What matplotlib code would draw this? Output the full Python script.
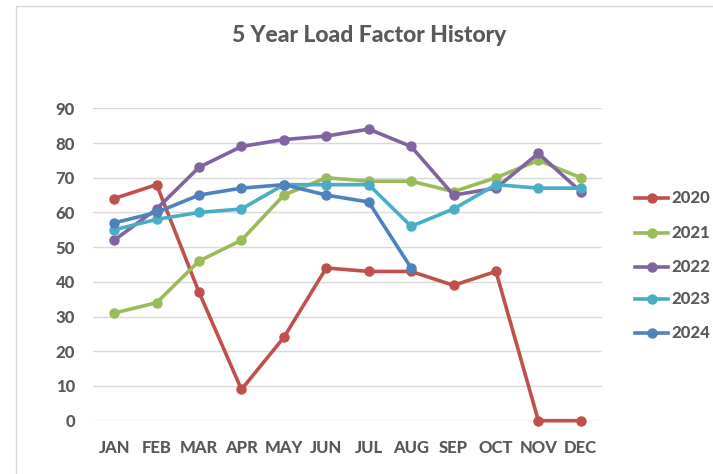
import matplotlib
matplotlib.use("Agg")
import matplotlib.pyplot as plt
from matplotlib.lines import Line2D
from matplotlib.patches import Rectangle

months = ["JAN", "FEB", "MAR", "APR", "MAY", "JUN", "JUL", "AUG", "SEP", "OCT", "NOV", "DEC"]
y2020 = [64, 68, 37, 9, 24, 44, 43, 43, 39, 43, 0, 0]
y2021 = [31, 34, 46, 52, 65, 70, 69, 69, 66, 70, 75, 70]
y2022 = [52, 61, 73, 79, 81, 82, 84, 79, 65, 67, 77, 66]
y2023 = [55, 58, 60, 61, 68, 68, 68, 56, 61, 68, 67, 67]
y2024 = [57, 60, 65, 67, 68, 65, 63, 44]
years = ["2020", "2021", "2022", "2023", "2024"]
series = [y2020, y2021, y2022, y2023, y2024]
colors = ["#C0504D", "#9BBB59", "#8064A2", "#4BACC6", "#4F81BD"]
yticks = [0, 10, 20, 30, 40, 50, 60, 70, 80, 90]

plt.rcParams['font.family'] = ['Lato', 'DejaVu Sans']
W, H = 713, 474
fig = plt.figure(figsize=(W / 100, H / 100), dpi=100)
txt = "#595959"
WEIGHT = 900

# outer frame
fig.patches.append(Rectangle((16 / W, -0.1), 1.2, (H - 6) / H + 0.1, transform=fig.transFigure,
                             fill=False, edgecolor="#D9D9D9", linewidth=1.0))

left, right = 93 / W, 602 / W
bottom, top = 1 - 420.7 / H, 1 - 108.3 / H
ax = fig.add_axes([left, bottom, right - left, top - bottom])

x = list(range(len(months)))
for name, vals, c in zip(years, series, colors):
    ax.plot(x[:len(vals)], vals, color=c, linewidth=2.6, marker="o", markersize=6.5,
            solid_capstyle="round", label=name, clip_on=False)

ax.set_xlim(-0.5, len(months) - 0.5)
ax.set_ylim(0, 90)
ax.set_yticks(yticks)
ax.set_xticks(x)
ax.set_xticklabels(months)
ax.grid(axis="y", color="#D9D9D9", linewidth=1.0)
ax.set_axisbelow(True)
for s in ax.spines.values():
    s.set_visible(False)
ax.tick_params(axis="both", length=0, labelsize=12, labelcolor=txt)
ax.tick_params(axis="x", pad=14)
ax.tick_params(axis="y", pad=13)
for lab in ax.get_xticklabels() + ax.get_yticklabels():
    lab.set_fontweight(WEIGHT)

fig.text(369 / W, 1 - 35 / H, "5 Year Load Factor History", ha="center", va="center",
         fontsize=16.5, fontweight=WEIGHT, color=txt)

# legend
leg_y = [198, 233, 267, 299, 333]
for name, c, yy in zip(years, colors, leg_y):
    yf = 1 - yy / H
    fig.lines.append(Line2D([635 / W, 668 / W], [yf, yf], transform=fig.transFigure,
                            color=c, linewidth=2.6))
    fig.lines.append(Line2D([651.5 / W], [yf], transform=fig.transFigure, color=c,
                            marker="o", markersize=6.5))
    fig.text(671 / W, yf, name, ha="left", va="center", fontsize=12,
             fontweight=WEIGHT, color=txt)

fig.savefig("out.png", dpi=100, facecolor="white")
